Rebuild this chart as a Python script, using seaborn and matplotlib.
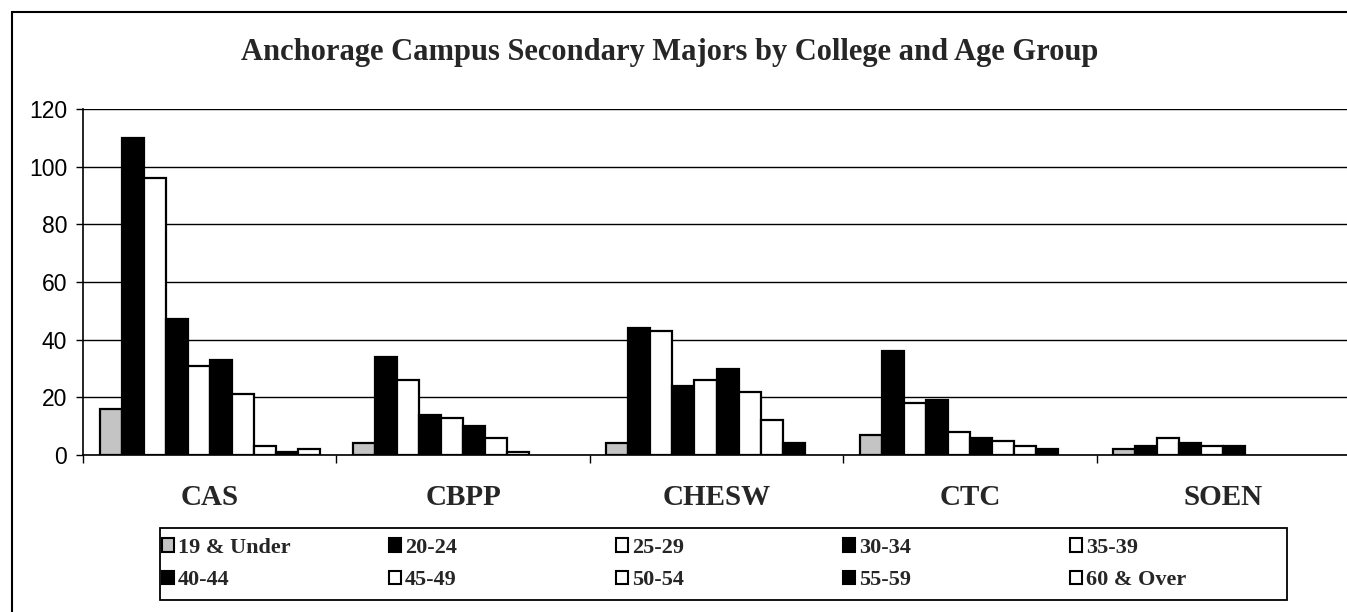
import matplotlib
matplotlib.use("Agg")
import matplotlib.pyplot as plt
from matplotlib.patches import Patch, Rectangle
import pandas as pd
import seaborn as sns

colleges = ["CAS", "CBPP", "CHESW", "CTC", "SOEN"]
age_groups = ["19 & Under", "20-24", "25-29", "30-34", "35-39",
              "40-44", "45-49", "50-54", "55-59", "60 & Over"]
cas = [16, 110, 96, 47, 31, 33, 21, 3, 1, 2]
cbpp = [4, 34, 26, 14, 13, 10, 6, 1, 0, 0]
chesw = [4, 44, 43, 24, 26, 30, 22, 12, 4, 0]
ctc = [7, 36, 18, 19, 8, 6, 5, 3, 2, 0]
soen = [2, 3, 6, 4, 3, 3, 0, 0, 0, 0]
y_ticks = [0, 20, 40, 60, 80, 100, 120]
title = "Anchorage Campus Secondary Majors by College and Age Group"

# excel-style fills: grey, then black / white pattern
fills = ["#c4c4c4", "black", "white", "black", "white",
         "black", "white", "white", "black", "white"]

rows = []
for college, vals in zip(colleges, [cas, cbpp, chesw, ctc, soen]):
    for age, v in zip(age_groups, vals):
        rows.append({"College": college, "Age": age, "Count": v})
df = pd.DataFrame(rows)

sns.set_theme(style="white")
SERIF = "Liberation Serif"
SANS = "Liberation Sans"
plt.rcParams["font.family"] = [SANS, "DejaVu Sans"]

W, H = 1347, 612
fig = plt.figure(figsize=(W / 100, H / 100), dpi=100)
fig.patch.set_facecolor("white")
ax = fig.add_axes([83 / W, 1 - 455 / H, (1350 - 83) / W, (455 - 109) / H])

sns.barplot(
    data=df, x="College", y="Count", hue="Age",
    order=colleges, hue_order=age_groups,
    palette=dict(zip(age_groups, fills)), saturation=1,
    width=10 / 11.5, gap=0, errorbar=None,
    edgecolor="black", linewidth=1.6, legend=False, ax=ax, zorder=3,
)
# empty bars should not thicken the baseline
for bar in ax.patches:
    if bar.get_height() == 0:
        bar.set_linewidth(0)

ax.set_xlim(-0.5, 4.5)
ax.set_ylim(0, 120)
ax.set_yticks(y_ticks)
ax.yaxis.grid(True, color="black", linewidth=1.0)
ax.xaxis.grid(False)
ax.set_axisbelow(True)
ax.set_facecolor("white")

ax.set_xticks(range(len(colleges)))
ax.set_xticklabels(colleges, fontfamily=SERIF, fontweight="bold", fontsize=21)
ax.set_xticks([i - 0.5 for i in range(len(colleges) + 1)], minor=True)
ax.tick_params(axis="x", which="major", length=0, pad=21)
ax.tick_params(axis="x", which="minor", bottom=True, length=6, width=1,
               direction="out", color="black")
ax.tick_params(axis="y", left=True, length=5, width=1, pad=6.5,
               labelsize=16.5, color="black", direction="out", labelcolor="black")
for lab in ax.get_yticklabels():
    lab.set_fontfamily(SANS)
ax.set_xlabel("")
ax.set_ylabel("")

for side in ["top", "right"]:
    ax.spines[side].set_visible(False)
for side in ["left", "bottom"]:
    ax.spines[side].set_color("black")
    ax.spines[side].set_linewidth(1.2)

fig.text(670 / W, 1 - 60 / H, title, ha="center", va="baseline",
         family=SERIF, weight="bold", size=22)

# legend: 5 equal-width columns, 2 rows, inside one box
for i in range(5):
    handles = [Patch(facecolor=fills[i], edgecolor="black", linewidth=1.5),
               Patch(facecolor=fills[i + 5], edgecolor="black", linewidth=1.5)]
    labels = [age_groups[i], age_groups[i + 5]]
    fig.legend(handles, labels, loc="upper left",
               bbox_to_anchor=((162 + 227 * i) / W, 1 - 538 / H),
               bbox_transform=fig.transFigure, frameon=False,
               borderpad=0, borderaxespad=0, handlelength=0.55,
               handleheight=0.55, handletextpad=0.18, labelspacing=0.55,
               prop={"family": SERIF, "weight": "bold", "size": 16})

fig.add_artist(Rectangle((160 / W, 1 - 600 / H), (1287 - 160) / W, (600 - 528) / H,
                         transform=fig.transFigure, fill=False,
                         edgecolor="black", linewidth=1.3))
# outer chart border (left and top visible in the scan)
fig.add_artist(Rectangle((12 / W, -0.05), 1.2, 1 - 12 / H + 0.05,
                         transform=fig.transFigure, fill=False,
                         edgecolor="black", linewidth=1.5))

fig.savefig("out.png", dpi=100)
